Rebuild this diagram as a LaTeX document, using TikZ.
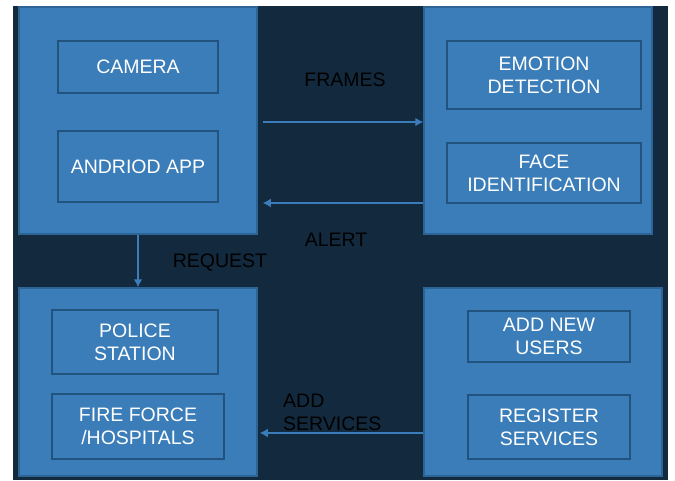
\documentclass[tikz,border=0pt]{standalone}
\usepackage{fontspec}
\setmainfont{Liberation Sans}
\usepackage{xcolor}
\usepackage{tikz}
\usetikzlibrary{arrows.meta, positioning}
\definecolor{navybg}{RGB}{19,41,61}
\definecolor{panelblue}{RGB}{58,125,184}
\definecolor{paneledge}{RGB}{44,100,150}
\definecolor{inneredge}{RGB}{34,82,126}

\begin{document}
\begin{tikzpicture}[
  x=1pt, y=-1pt,
  panel/.style={rectangle, draw=paneledge, line width=1.5pt, fill=panelblue},
  unit/.style={rectangle, draw=inneredge, line width=1.6pt, fill=panelblue, text=white, align=center, font=\fontsize{19.5}{23}\selectfont, inner sep=0pt},
  tag/.style={text=black, font=\fontsize{19.5}{23}\selectfont, inner sep=0pt},
  arrow/.style={-{Latex[length=8pt,width=9pt]}, draw=panelblue, line width=1.8pt}
]
\useasboundingbox (0,0) rectangle (675,480);
\fill[white] (0,0) rectangle (675,480);
\fill[navybg] (13,6) rectangle (668,480);

% the four blocks
\node[panel, minimum width=238pt, minimum height=227pt] (mobile) at (138,120.5) {};
\node[panel, minimum width=228pt, minimum height=227pt] (analysis) at (538,120.5) {};
\node[panel, minimum width=238pt, minimum height=188pt] (services) at (138,382) {};
\node[panel, minimum width=238pt, minimum height=188pt] (admin) at (543,382) {};

\node[unit, minimum width=160pt, minimum height=52pt] (camera) at (138,67) {CAMERA};
\node[unit, minimum width=160pt, minimum height=71pt] (app) at (138,166.5) {ANDRIOD APP};
\node[unit, minimum width=194pt, minimum height=68pt] (emotion) at (544,75) {EMOTION\\DETECTION};
\node[unit, minimum width=194pt, minimum height=60pt] (face) at (544,173) {FACE\\IDENTIFICATION};
\node[unit, minimum width=166pt, minimum height=64pt] (police) at (135,342) {POLICE\\STATION};
\node[unit, minimum width=172pt, minimum height=65pt] (fire) at (138,426.5) {FIRE FORCE\\/HOSPITALS};
\node[unit, minimum width=162pt, minimum height=51pt] (newusers) at (549,336.5) {ADD NEW\\USERS};
\node[unit, minimum width=162pt, minimum height=64pt] (register) at (549,427) {REGISTER\\SERVICES};

% labels
\node[tag] (frames) at (345,80) {FRAMES};
\node[tag] (alert) at (336,240) {ALERT};
\node[tag] (request) at (220,263) {REQUEST};
\node[tag, anchor=west, align=left] (addserv) at (283,412) {ADD\\SERVICES};

\draw[arrow] ([xshift=5pt,yshift=-1.5pt]mobile.east) -- ([yshift=-1.5pt]analysis.west);
\draw[arrow] ([yshift=-82.5pt]analysis.west) -- ([xshift=5pt,yshift=-82.5pt]mobile.east);
\draw[arrow] (mobile.south) -- (services.north);
\draw[arrow] ([yshift=-51pt]admin.west) -- ([xshift=2pt,yshift=-51pt]services.east);
\end{tikzpicture}
\end{document}
